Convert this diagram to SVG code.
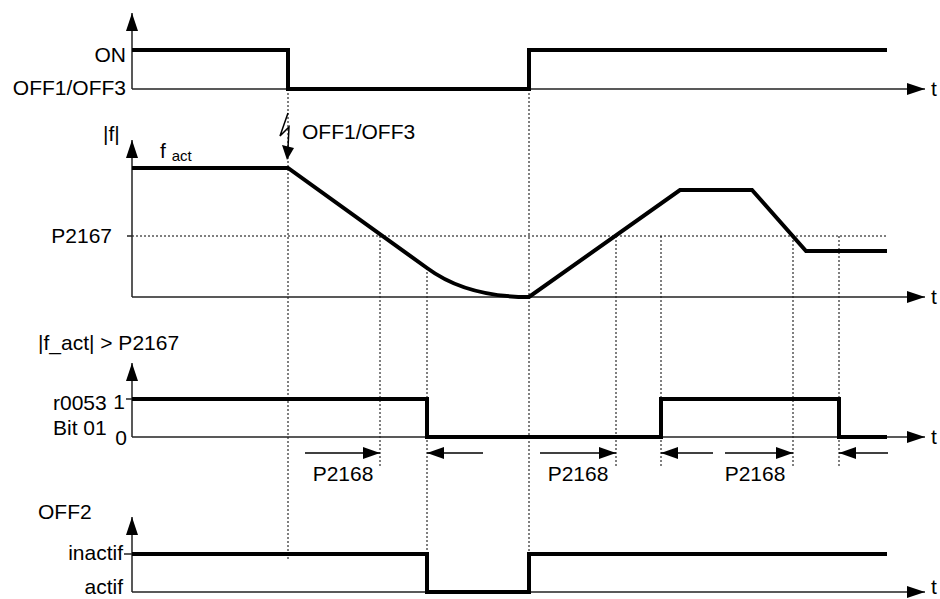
<svg xmlns="http://www.w3.org/2000/svg" width="940" height="599" viewBox="0 0 940 599">
<defs>
<marker id="ax" viewBox="0 0 18 12" refX="18" refY="6" markerWidth="18" markerHeight="12" markerUnits="userSpaceOnUse" orient="auto"><path d="M0,0 L18,6 L0,12 z" fill="#000"/></marker>
<marker id="dim" viewBox="0 0 17 12" refX="17" refY="6" markerWidth="17" markerHeight="12" markerUnits="userSpaceOnUse" orient="auto"><path d="M0,0 L17,6 L0,12 z" fill="#000"/></marker>
<style>
text{font-family:"Liberation Sans",Arial,sans-serif;font-size:21px;fill:#000}
.axis{stroke:#222;stroke-width:1.5;fill:none}
.sig{stroke:#000;stroke-width:4;fill:none;stroke-linejoin:miter}
.dot{stroke:#000;stroke-width:1;stroke-dasharray:2,2;fill:none}
.dim{stroke:#000;stroke-width:1.5;fill:none}
.end{text-anchor:end}
.mid{text-anchor:middle}
</style>
</defs>
<rect width="940" height="599" fill="#fff"/>

<g id="guides">
<path class="dot" d="M288,89 V560 M380,236 V468 M427,268 V592 M529,89 V554 M616,236 V468 M661,236 V468 M793,236 V468 M839,236 V468 M132,236 H888"/>
</g>

<g id="panel-onoff">
<path class="axis" d="M132,89 V13" marker-end="url(#ax)"/>
<path class="axis" d="M132,89 H925" marker-end="url(#ax)"/>
<path class="sig" d="M132,50 H288 V89 H529 V50 H887"/>
<text class="end" x="126" y="62">ON</text>
<text class="end" x="126" y="95">OFF1/OFF3</text>
<text x="931" y="96">t</text>
</g>

<g id="event-off13">
<polyline points="288,113 280,136 289,127 288,148" fill="none" stroke="#000" stroke-width="1.5"/>
<polygon points="282,145 294,148 287,160" fill="#000"/>
<text x="302" y="139">OFF1/OFF3</text>
</g>

<g id="panel-f">
<path class="axis" d="M132,297 V140" marker-end="url(#ax)"/>
<path class="axis" d="M132,297 H925" marker-end="url(#ax)"/>
<path class="axis" d="M127,236 H132"/>
<path class="sig" d="M132,168 H288 L427,268 Q466,297 529,297 L680,190 H752 L806,251 H887"/>
<text x="103" y="141">|f|</text>
<text x="160" y="158">f <tspan font-size="15" dy="3">act</tspan></text>
<text class="end" x="112" y="243">P2167</text>
<text x="931" y="304">t</text>
</g>

<g id="panel-r0053">
<path class="axis" d="M132,437 V363" marker-end="url(#ax)"/>
<path class="axis" d="M132,437 H925" marker-end="url(#ax)"/>
<path class="axis" d="M126,399 H132"/>
<path class="sig" d="M132,399 H427 V437 H661 V399 H839 V437 H887"/>
<text x="38" y="350">|f_act| &gt; P2167</text>
<text x="53" y="410">r0053</text>
<text class="end" x="125" y="409">1</text>
<text x="53" y="435">Bit 01</text>
<text class="end" x="127" y="445">0</text>
<text x="931" y="444">t</text>
</g>

<g id="delays">
<path class="dim" d="M305,453 H380" marker-end="url(#dim)"/>
<path class="dim" d="M483,453 H427" marker-end="url(#dim)"/>
<path class="dim" d="M540,453 H616" marker-end="url(#dim)"/>
<path class="dim" d="M713,453 H661" marker-end="url(#dim)"/>
<path class="dim" d="M725,453 H793" marker-end="url(#dim)"/>
<path class="dim" d="M888,453 H839" marker-end="url(#dim)"/>
<text class="mid" x="343" y="481">P2168</text>
<text class="mid" x="578" y="481">P2168</text>
<text class="mid" x="755" y="481">P2168</text>
</g>

<g id="panel-off2">
<path class="axis" d="M132,592 V517" marker-end="url(#ax)"/>
<path class="axis" d="M132,592 H925" marker-end="url(#ax)"/>
<path class="axis" d="M124,554 H132"/>
<path class="sig" d="M132,554 H427 V592 H529 V554 H887"/>
<text x="38" y="519">OFF2</text>
<text class="end" x="123" y="560">inactif</text>
<text class="end" x="123" y="594">actif</text>
<text x="931" y="594">t</text>
</g>
</svg>
